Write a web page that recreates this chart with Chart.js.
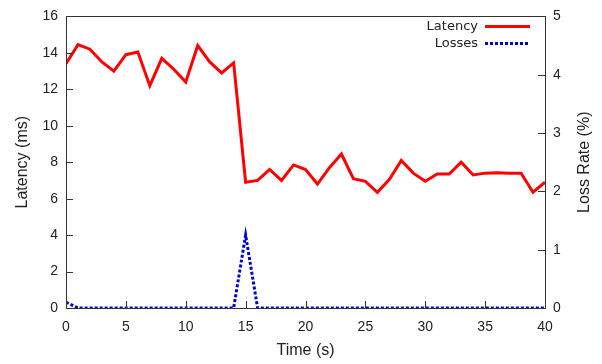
<!DOCTYPE html>
<html>
<head>
<meta charset="utf-8">
<script src="https://cdn.jsdelivr.net/npm/chart.js@4"></script>
<style>
  html, body { margin: 0; padding: 0; background: #fff; }
  #wrap { width: 602px; height: 364px; position: relative; }
</style>
</head>
<body>
<div id="wrap"><canvas id="lossChart"></canvas></div>
<script>
const times = [0, 1, 2, 3, 4, 5, 6, 7, 8, 9, 10, 11, 12, 13, 14, 15, 16, 17, 18, 19, 20,
  21, 22, 23, 24, 25, 26, 27, 28, 29, 30, 31, 32, 33, 34, 35, 36, 37, 38, 39, 40];
const latency = [13.4, 14.45, 14.2, 13.5, 13.0, 13.9, 14.05, 12.2, 13.7, 13.1, 12.4, 14.4, 13.5, 12.9, 13.45,
  6.9, 7.0, 7.6, 7.0, 7.85, 7.6, 6.8, 7.7, 8.45, 7.1, 6.95, 6.35, 7.05, 8.1, 7.4,
  6.95, 7.35, 7.35, 8.0, 7.3, 7.4, 7.42, 7.4, 7.4, 6.35, 6.9];
const losses = [0.1, 0, 0, 0, 0, 0, 0, 0, 0, 0, 0, 0, 0, 0, 0, 1.25, 0, 0, 0, 0, 0,
  0, 0, 0, 0, 0, 0, 0, 0, 0, 0, 0, 0, 0, 0, 0, 0, 0, 0, 0, 0];
const xTicks = [0, 5, 10, 15, 20, 25, 30, 35, 40];
const rightTitle = "Loss Rate (%)";

const textColor = "#222";
const font = { family: "'Liberation Sans', Arial, sans-serif", size: 14 };

function toPoints(values) {
  return times.map((t, i) => ({ x: t, y: values[i] }));
}

// gnuplot style: inward ticks, box border, legend inside the top right corner
const framePlugin = {
  id: "frame",
  afterDraw(chart) {
    const { ctx, chartArea: a, scales } = chart;
    ctx.save();
    ctx.strokeStyle = "#333";
    ctx.lineWidth = 1;
    ctx.beginPath();
    scales.x.ticks.forEach((t) => {
      const px = Math.round(scales.x.getPixelForValue(t.value)) + 0.5;
      ctx.moveTo(px, a.bottom);
      ctx.lineTo(px, a.bottom - 7);
    });
    scales.y.ticks.forEach((t) => {
      const py = Math.round(scales.y.getPixelForValue(t.value)) + 0.5;
      ctx.moveTo(a.left, py);
      ctx.lineTo(a.left + 7, py);
    });
    scales.y2.ticks.forEach((t) => {
      const py = Math.round(scales.y2.getPixelForValue(t.value)) + 0.5;
      ctx.moveTo(a.right, py);
      ctx.lineTo(a.right - 7, py);
    });
    ctx.stroke();
    ctx.strokeRect(Math.round(a.left) + 0.5, Math.round(a.top) + 0.5,
      Math.round(a.right - a.left), Math.round(a.bottom - a.top));

    // right axis title reads bottom-to-top like the left one
    ctx.save();
    ctx.translate(585, (a.top + a.bottom) / 2);
    ctx.rotate(-Math.PI / 2);
    ctx.font = "16px 'Liberation Sans', Arial, sans-serif";
    ctx.fillStyle = textColor;
    ctx.textAlign = "center";
    ctx.textBaseline = "middle";
    ctx.fillText(rightTitle, 0, 0);
    ctx.restore();

    // legend
    ctx.font = "13px 'DejaVu Sans', sans-serif";
    ctx.fillStyle = textColor;
    ctx.textAlign = "right";
    ctx.textBaseline = "middle";
    chart.data.datasets.forEach((ds, i) => {
      const y = a.top + 10 + i * 17;
      ctx.fillText(ds.label, a.right - 67, y);
      ctx.beginPath();
      ctx.strokeStyle = ds.borderColor;
      ctx.lineWidth = 3;
      ctx.setLineDash(ds.borderDash || []);
      ctx.moveTo(a.right - 60, y);
      ctx.lineTo(a.right - 15, y);
      ctx.stroke();
      ctx.setLineDash([]);
    });
    ctx.restore();
  },
};

new Chart(document.getElementById("lossChart"), {
  type: "line",
  data: {
    datasets: [
      {
        label: "Latency",
        data: toPoints(latency),
        yAxisID: "y",
        borderColor: "#ff0000",
        borderWidth: 3,
        pointRadius: 0,
        tension: 0,
      },
      {
        label: "Losses",
        data: toPoints(losses),
        yAxisID: "y2",
        borderColor: "#0000cc",
        borderWidth: 3,
        borderDash: [3, 2],
        pointRadius: 0,
        tension: 0,
      },
    ],
  },
  options: {
    responsive: true,
    maintainAspectRatio: false,
    animation: false,
    layout: { padding: { top: 11, left: 0, right: 0, bottom: 0 } },
    plugins: { legend: { display: false }, tooltip: { enabled: false } },
    scales: {
      x: {
        type: "linear",
        min: 0,
        max: 40,
        afterBuildTicks: (s) => { s.ticks = xTicks.map((v) => ({ value: v })); },
        afterFit: (s) => { s.height = 56; },
        grid: { display: false, drawTicks: false },
        border: { display: false },
        ticks: { color: textColor, font, padding: 11, maxRotation: 0 },
        title: { display: true, text: "Time (s)", color: textColor, font: { ...font, size: 16 }, padding: { top: 2, bottom: 4 } },
      },
      y: {
        position: "left",
        min: 0,
        max: 16,
        ticks: { stepSize: 2, color: textColor, font, padding: 8 },
        afterFit: (s) => { s.width = 66; },
        grid: { display: false, drawTicks: false },
        border: { display: false },
        title: { display: true, text: "Latency (ms)", color: textColor, font: { ...font, size: 16 }, padding: { top: 13, bottom: 4 } },
      },
      y2: {
        position: "right",
        min: 0,
        max: 5,
        ticks: { stepSize: 1, color: textColor, font, padding: 8 },
        afterFit: (s) => { s.width = 57; },
        grid: { display: false, drawTicks: false },
        border: { display: false },
        title: { display: false },
      },
    },
  },
  plugins: [framePlugin],
});
</script>
</body>
</html>
